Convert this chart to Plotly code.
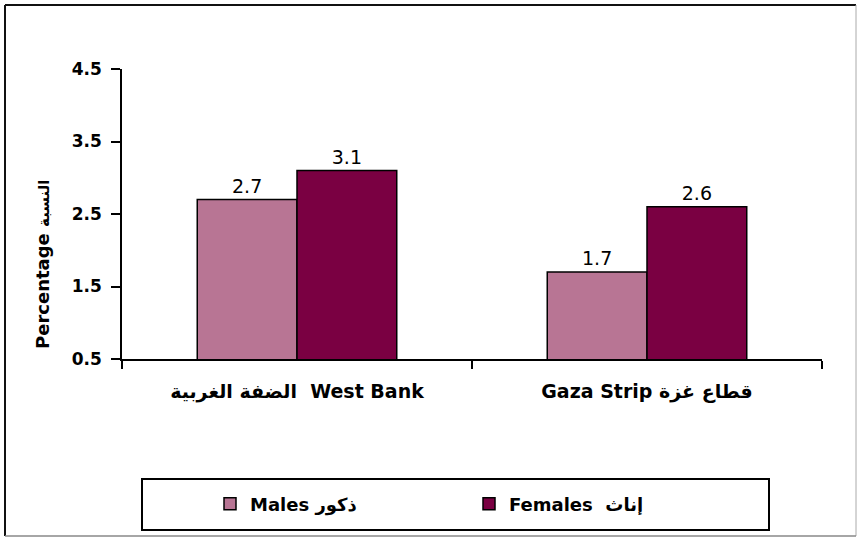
import plotly.graph_objects as go

categories = ["الضفة الغربية  West Bank", "Gaza Strip قطاع غزة"]
males = [2.7, 1.7]
females = [3.1, 2.6]
y_ticks = [0.5, 1.5, 2.5, 3.5, 4.5]
y_tick_labels = ["0.5", "1.5", "2.5", "3.5", "4.5"]
series_names = ["Males ذكور", "Females  إناث"]
y_title = "Percentage <span style='font-size:15px'>النسبة</span>"

W, H = 857, 537
L, R, T, B = 122, 822, 69, 359
pw, ph = R - L, B - T

def px(x):
    return (x - L) / pw

def py(y):
    return (B - y) / ph

FONT = "'DejaVu Sans', Arial, sans-serif"

fig = go.Figure()
fig.add_trace(go.Bar(
    x=categories, y=males, name=series_names[0],
    marker=dict(color="#B87594", line=dict(color="black", width=1.5)),
    text=[f"{v:.1f}" for v in males], textposition="outside",
    textfont=dict(family=FONT, size=19, color="black"), cliponaxis=False,
))
fig.add_trace(go.Bar(
    x=categories, y=females, name=series_names[1],
    marker=dict(color="#7A0042", line=dict(color="black", width=1.5)),
    text=[f"{v:.1f}" for v in females], textposition="outside",
    textfont=dict(family=FONT, size=19, color="black"), cliponaxis=False,
))

shapes = [
    # outer frame
    dict(type="line", xref="paper", yref="paper", x0=px(5), x1=px(856), y0=py(5), y1=py(5),
         line=dict(color="#111", width=2)),
    dict(type="line", xref="paper", yref="paper", x0=px(5), x1=px(5), y0=py(5), y1=py(536),
         line=dict(color="#111", width=2)),
    dict(type="line", xref="paper", yref="paper", x0=px(856), x1=px(856), y0=py(5), y1=py(536),
         line=dict(color="#aaa", width=1)),
    dict(type="line", xref="paper", yref="paper", x0=px(5), x1=px(856), y0=py(536), y1=py(536),
         line=dict(color="#888", width=1.5)),
    # legend box
    dict(type="rect", xref="paper", yref="paper", x0=px(142), x1=px(769), y0=py(530), y1=py(479),
         line=dict(color="black", width=2)),
]

fig.update_layout(
    width=W, height=H,
    margin=dict(l=L, r=W - R, t=T, b=H - B, pad=0),
    paper_bgcolor="white", plot_bgcolor="white",
    barmode="group", bargap=0.43, bargroupgap=0,
    font=dict(family=FONT, color="black"),
    showlegend=True,
    legend=dict(orientation="h", x=px(210), y=py(504), xanchor="left", yanchor="middle",
                entrywidth=214, entrywidthmode="pixels",
                font=dict(family=FONT, size=18, color="black", weight="bold"),
                bgcolor="rgba(0,0,0,0)", borderwidth=0, traceorder="normal"),
    shapes=shapes,
    annotations=[dict(text="<b>" + y_title + "</b>", xref="paper", yref="paper",
                      x=px(42), y=py(265), xanchor="center", yanchor="middle",
                      textangle=-90, showarrow=False,
                      font=dict(family=FONT, size=18, color="black"))],
)
fig.update_xaxes(
    type="category", showline=True, linecolor="black", linewidth=1.5,
    ticks="outside", ticklen=8, tickcolor="black", tickwidth=1.5, tickson="boundaries",
    tickfont=dict(family=FONT, size=19, color="black", weight="bold"),
    ticklabelstandoff=14, showgrid=False, zeroline=False,
)
fig.update_yaxes(
    range=[0.5, 4.5], tickvals=y_ticks, ticktext=y_tick_labels,
    showline=True, linecolor="black", linewidth=1.5,
    ticks="outside", ticklen=9, tickcolor="black", tickwidth=1.5,
    tickfont=dict(family=FONT, size=17, color="black", weight="bold"),
    ticklabelstandoff=6, showgrid=False, zeroline=False,
)

fig.write_html("out.html", config={"displayModeBar": False},
               post_script="document.body.style.margin='0';document.body.style.overflow='hidden';")
